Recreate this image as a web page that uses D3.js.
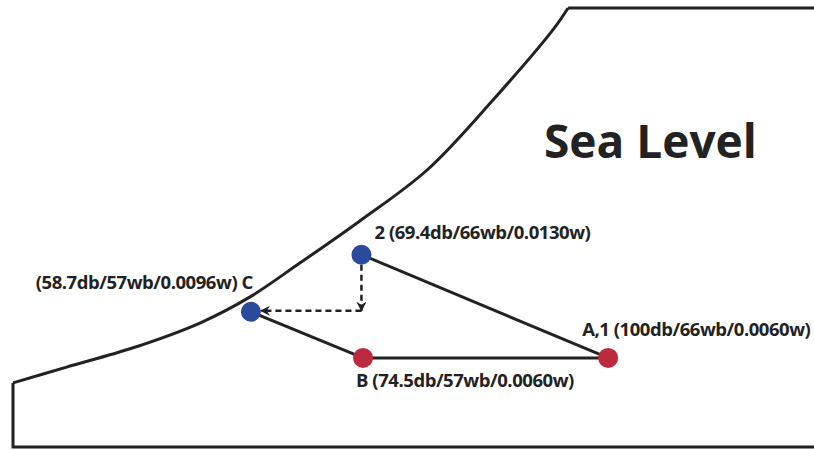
<!DOCTYPE html>
<html>
<head>
<meta charset="utf-8">
<script src="https://cdn.jsdelivr.net/npm/d3@7"></script>
<style>
  body { margin: 0; background: #fff; }
  text { font-family: "Open Sans", sans-serif; font-weight: bold; fill: #222; }
</style>
</head>
<body>
<svg width="814" height="450"></svg>
<script>
// states on the chart: dry bulb, wet bulb, humidity ratio
const names = ['A,1', 'B', 'C', '2'];
const dryBulb = [100, 74.5, 58.7, 69.4];
const wetBulb = [66, 57, 57, 66];
const humRatio = [0.0060, 0.0060, 0.0096, 0.0130];
const pointColors = ['#bb2a3f', '#bb2a3f', '#2b4a9b', '#2b4a9b'];

// process lines (solid); the dashed path runs 2 -> C
const solidPaths = [['2', 'A,1'], ['A,1', 'B'], ['B', 'C']];

// saturation curve, in schematic units (0..100 across, 0..100 up)
const satX = [0, 6.7, 15.0, 23.4, 29.6, 35.8, 43.3, 51.7, 59.9, 67.4, 69.3];
const satY = [14.6, 18.2, 22.6, 28.3, 34.2, 41.9, 51.5, 63.1, 79.0, 95.0, 100];
const title = 'Sea Level';

const svg = d3.select('svg');
const mLeft = 13, mRight = 814, mTop = 8, mBottom = 447;

// frame scales for the chart outline
const fx = d3.scaleLinear().domain([0, 100]).range([mLeft, mRight]);
const fy = d3.scaleLinear().domain([0, 100]).range([mBottom, mTop]);

// the chart is schematic, so dry bulb and humidity ratio use piecewise scales
const x = d3.scaleLinear().domain([58.7, 69.4, 74.5, 100]).range([fx(29.7), fx(43.5), fx(43.7), fx(74.3)]);
const y = d3.scaleLinear().domain([0.006, 0.0096, 0.013]).range([fy(20.3), fy(30.8), fy(43.8)]);

const pts = names.map((n, i) => ({ name: n, db: dryBulb[i], wb: wetBulb[i], w: humRatio[i], color: pointColors[i] }));
const byName = {};
pts.forEach(p => { p.x = x(p.db); p.y = y(p.w); byName[p.name] = p; });

// outline: saturation curve, top, bottom and left side
const sat = satX.map((v, i) => [fx(v), fy(satY[i])]);
const line = d3.line().curve(d3.curveCatmullRom.alpha(0.5));
svg.append('path')
  .attr('d', line(sat))
  .attr('fill', 'none').attr('stroke', '#222').attr('stroke-width', 3);
svg.append('path')
  .attr('d', d3.line()([[fx(69.3), fy(100)], [fx(100), fy(100)]]))
  .attr('stroke', '#222').attr('stroke-width', 3);
svg.append('path')
  .attr('d', d3.line()([[fx(0), fy(14.6)], [fx(0), fy(0)], [fx(100), fy(0)]]))
  .attr('fill', 'none').attr('stroke', '#222').attr('stroke-width', 3);

// arrowhead
svg.append('defs').append('marker')
  .attr('id', 'arr').attr('viewBox', '0 0 10 10').attr('refX', 9).attr('refY', 5)
  .attr('markerWidth', 4).attr('markerHeight', 4).attr('orient', 'auto')
  .append('path').attr('d', 'M0,0 L10,5 L0,10 L3,5 Z').attr('fill', '#222');

// dashed: from 2 straight down to the humidity of C, then across to C
const p2 = byName['2'], pc = byName['C'];
svg.append('path')
  .attr('d', d3.line()([[p2.x, p2.y + 10], [p2.x, y(pc.w) - 1]]))
  .attr('stroke', '#222').attr('stroke-width', 2.5).attr('stroke-dasharray', '6,4')
  .attr('marker-end', 'url(#arr)');
svg.append('path')
  .attr('d', d3.line()([[p2.x, y(pc.w) - 1], [pc.x + 10, y(pc.w) - 1]]))
  .attr('stroke', '#222').attr('stroke-width', 2.5).attr('stroke-dasharray', '6,4')
  .attr('marker-end', 'url(#arr)');

svg.selectAll('.proc').data(solidPaths).enter().append('line')
  .attr('x1', d => byName[d[0]].x).attr('y1', d => byName[d[0]].y)
  .attr('x2', d => byName[d[1]].x).attr('y2', d => byName[d[1]].y)
  .attr('stroke', '#222').attr('stroke-width', 3);

svg.selectAll('circle').data(pts).enter().append('circle')
  .attr('cx', d => d.x).attr('cy', d => d.y).attr('r', 10)
  .attr('fill', d => d.color);

const fmt = d => `${d.db}db/${d.wb}wb/${d.w.toFixed(4)}w`;
const labels = [
  { p: byName['A,1'], text: d => `A,1 (${fmt(d)})`, dx: -26, dy: -22, anchor: 'start' },
  { p: byName['B'], text: d => `B (${fmt(d)})`, dx: -7, dy: 29, anchor: 'start' },
  { p: byName['C'], text: d => `(${fmt(d)}) C`, dx: 2, dy: -23, anchor: 'end' },
  { p: byName['2'], text: d => `2 (${fmt(d)})`, dx: 13, dy: -16, anchor: 'start' }
];
svg.selectAll('.lbl').data(labels).enter().append('text')
  .attr('class', 'lbl')
  .attr('x', d => d.p.x + d.dx).attr('y', d => d.p.y + d.dy)
  .attr('text-anchor', d => d.anchor)
  .style('font-size', '18.5px').style('letter-spacing', '-0.45px')
  .text(d => d.text(d.p));

svg.append('text')
  .attr('x', 544).attr('y', 158)
  .style('font-size', '46px')
  .text(title);
</script>
</body>
</html>
